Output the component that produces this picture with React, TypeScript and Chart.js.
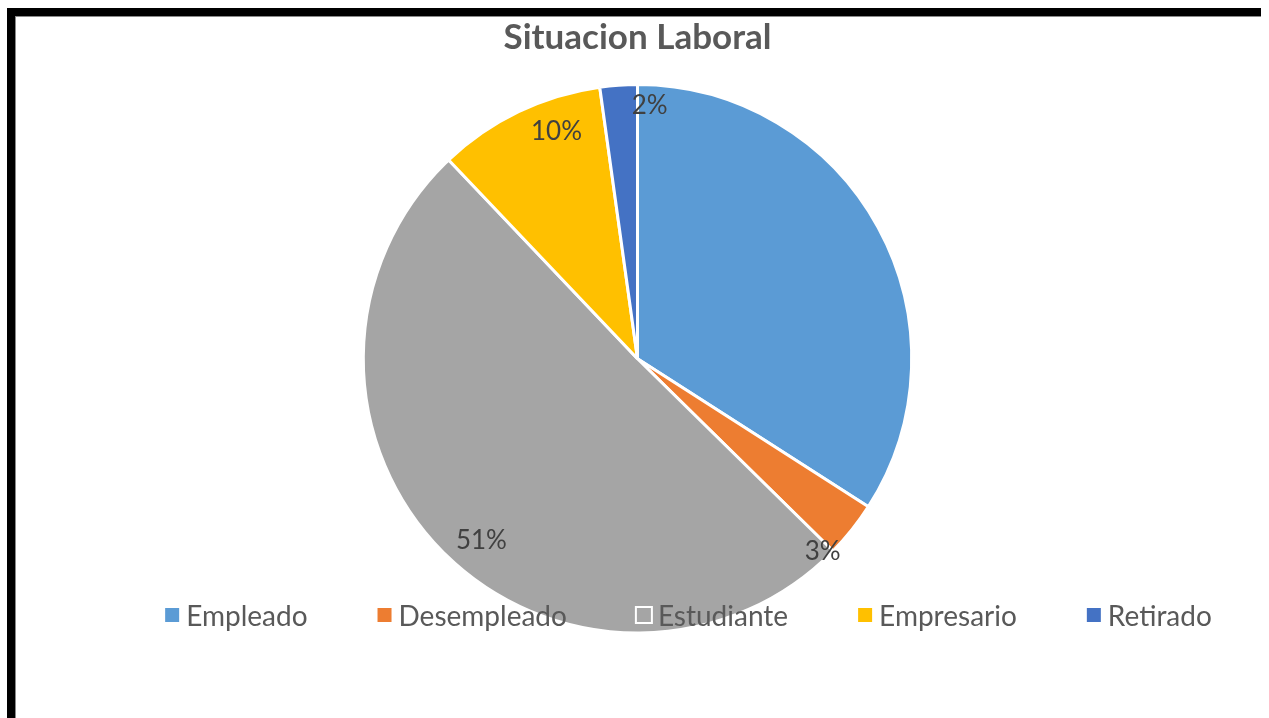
import React, { useEffect, useRef } from 'react';
import { Chart, registerables } from 'chart.js';

Chart.register(...registerables);

// ---- data ----
const categories = ['Empleado', 'Desempleado', 'Estudiante', 'Empresario', 'Retirado'];
const counts = [31, 3, 46, 9, 2];
const showLabel = [false, true, true, true, true];
const colors = ['#5B9BD5', '#ED7D31', '#A5A5A5', '#FFC000', '#4472C4'];
const titleText = 'Situacion Laboral';

// ---- style / placement (not data) ----
const labelPlacement = [
  { dAngle: 0, r: 0.7 },
  { dAngle: 7.6, r: 0.975 },
  { dAngle: -4.9, r: 0.875 },
  { dAngle: 6.1, r: 0.88 },
  { dAngle: 6.7, r: 0.923 },
];
const FONT = 'Lato, "Open Sans", "DejaVu Sans", sans-serif';
const LEGEND_FONT_SIZE = 28;
const LABEL_FONT_SIZE = 26;
const LEGEND_CENTER_X = 687.5;
const LEGEND_Y = 617;

const labelsPlugin = {
  id: 'pctLabels',
  afterDatasetsDraw(chart: any) {
    const ctx = chart.ctx;
    const meta = chart.getDatasetMeta(0);
    const data = chart.data.datasets[0].data as number[];
    const total = data.reduce((a, b) => a + b, 0);
    ctx.save();
    ctx.font = `${LABEL_FONT_SIZE}px ${FONT}`;
    ctx.fillStyle = '#404040';
    ctx.textAlign = 'center';
    ctx.textBaseline = 'middle';
    meta.data.forEach((arc: any, i: number) => {
      if (!showLabel[i]) return;
      const p = arc.getProps(['startAngle', 'endAngle', 'outerRadius', 'x', 'y'], true);
      const pl = labelPlacement[i];
      const mid = (p.startAngle + p.endAngle) / 2 + (pl.dAngle * Math.PI) / 180;
      const px = p.x + Math.cos(mid) * p.outerRadius * pl.r;
      const py = p.y + Math.sin(mid) * p.outerRadius * pl.r;
      const txt = Math.round((data[i] / total) * 100) + '%';
      ctx.fillText(txt, px, py);
    });
    ctx.restore();
  },
};

const legendPlugin = {
  id: 'overLegend',
  afterDatasetsDraw(chart: any) {
    const ctx = chart.ctx;
    const labels = chart.data.labels as string[];
    const bg = chart.data.datasets[0].backgroundColor as string[];
    ctx.save();
    ctx.font = `${LEGEND_FONT_SIZE}px ${FONT}`;
    const keyOuter = 18;
    const keyInner = 14;
    const keyGap = 5;
    const itemGap = 68;
    const widths = labels.map((l) => ctx.measureText(l).width);
    const total =
      widths.reduce((a, w) => a + keyOuter + keyGap + w, 0) + itemGap * (labels.length - 1);
    let x = LEGEND_CENTER_X - total / 2;
    ctx.textBaseline = 'middle';
    ctx.textAlign = 'left';
    labels.forEach((l, i) => {
      const ky = LEGEND_Y - 2 - keyOuter / 2;
      ctx.fillStyle = '#FFFFFF';
      ctx.fillRect(x, ky, keyOuter, keyOuter);
      ctx.fillStyle = bg[i];
      const off = (keyOuter - keyInner) / 2;
      ctx.fillRect(x + off, ky + off, keyInner, keyInner);
      ctx.fillStyle = '#595959';
      ctx.fillText(l, x + keyOuter + keyGap, LEGEND_Y);
      x += keyOuter + keyGap + widths[i] + itemGap;
    });
    ctx.restore();
  },
};

export default function App() {
  const canvasRef = useRef<HTMLCanvasElement | null>(null);

  useEffect(() => {
    if (!canvasRef.current) return;
    const chart = new Chart(canvasRef.current, {
      type: 'pie',
      data: {
        labels: categories,
        datasets: [
          {
            data: counts,
            backgroundColor: colors,
            borderColor: '#FFFFFF',
            borderWidth: 3,
            hoverOffset: 0,
          },
        ],
      },
      options: {
        responsive: false,
        animation: false,
        layout: { padding: { top: 0, bottom: 83.5, left: 6, right: 0 } },
        plugins: {
          legend: { display: false },
          tooltip: { enabled: false },
          title: {
            display: true,
            text: titleText,
            color: '#595959',
            font: { family: FONT, size: 35, weight: 'bold' },
            padding: { top: 16.5, bottom: 24.6 },
          },
        },
      },
      plugins: [labelsPlugin, legendPlugin],
    });
    return () => chart.destroy();
  }, []);

  return (
    <>
      <canvas
        ref={canvasRef}
        width={1269}
        height={718}
        style={{ position: 'fixed', left: 0, top: 0, width: 1269, height: 718, background: '#FFFFFF' }}
      />
      <div
        style={{
          position: 'fixed',
          left: 7,
          top: 8,
          width: 1254 - 8,
          height: 718,
          borderTop: '8px solid #000',
          borderLeft: '8px solid #000',
          boxShadow: 'inset 1px 1px 0 #8a8a8a',
          pointerEvents: 'none',
        }}
      />
    </>
  );
}
